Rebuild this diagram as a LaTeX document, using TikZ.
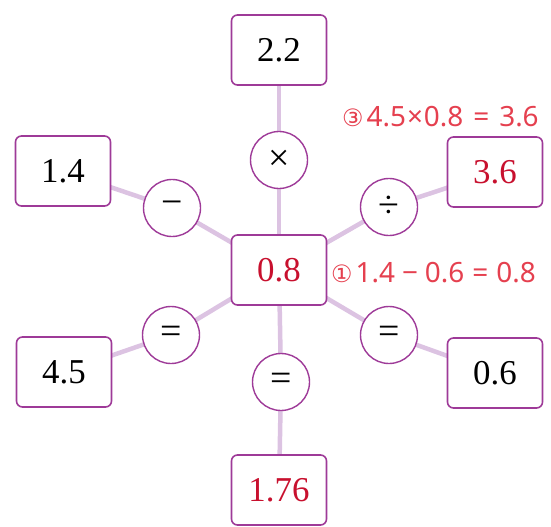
\documentclass[tikz,border=0pt]{standalone}
\usepackage{fontspec}
\usepackage{tikz}
\usetikzlibrary{positioning,calc,backgrounds}
\setmainfont{Liberation Serif}
\newfontfamily\notefont{Noto Sans}
\newfontfamily\circfont{DejaVu Sans}
\definecolor{boxLine}{HTML}{9E3A98}
\definecolor{linkCol}{HTML}{DCC3E2}
\definecolor{numRed}{HTML}{C8102E}
\definecolor{noteRed}{HTML}{E5404F}
\newcommand{\circnum}[1]{{\circfont\fontsize{24}{28}\selectfont #1}}
\tikzset{
  numbox/.style={
    rectangle, rounded corners=6pt, draw=boxLine, line width=1.6pt,
    fill=white, minimum width=95bp, minimum height=70bp, inner sep=0pt,
    font=\fontsize{35}{38}\selectfont,
  },
  opcircle/.style={
    circle, draw=boxLine, line width=1.4pt, fill=white,
    minimum size=57bp, inner sep=0pt, font=\fontsize{38}{40}\selectfont,
  },
  linkline/.style={
    line width=4.5bp, draw=linkCol,
  },
  note/.style={
    text=noteRed, inner sep=0pt, anchor=west,
    font=\notefont\fontsize{28}{30}\selectfont,
  },
}

\begin{document}
\begin{tikzpicture}[x=1bp, y=-1bp]
\useasboundingbox (0,0) rectangle (551,527);

% number boxes
\node[numbox] (box22)  at (279,50)  {2.2};
\node[numbox, text=numRed] (box08)  at (279,270) {0.8};
\node[numbox] (box14)  at (63,171)  {1.4};
\node[numbox, text=numRed] (box36)  at (495,172) {3.6};
\node[numbox] (box45)  at (64,372)  {4.5};
\node[numbox] (box06)  at (495,373) {0.6};
\node[numbox, text=numRed] (box176) at (279,490) {1.76};

% operator circles
\node[opcircle] (opTimes) at (279,160) {×};
\node[opcircle] (opMinus) at (172,208) {−};
\node[opcircle] (opDiv)   at (389,207) {÷};
\node[opcircle] (opEqL)   at (171,335) {=};
\node[opcircle] (opEqR)   at (389,335) {=};
\node[opcircle] (opEqB)   at (281,382) {=};

% links behind everything
\begin{scope}[on background layer]
  \draw[linkline] (box22.center) -- (opTimes.center) -- (box08.center);
  \draw[linkline] (box08.center) -- (opEqB.center) -- (box176.center);
  \draw[linkline] (box14.center) -- (opMinus.center) -- (box08.center);
  \draw[linkline] (box36.center) -- (opDiv.center) -- (box08.center);
  \draw[linkline] (box45.center) -- (opEqL.center) -- (box08.center);
  \draw[linkline] (box06.center) -- (opEqR.center) -- (box08.center);
\end{scope}

% notes
\node[note] (noteThree) at (342,117)
  {\circnum{③}\hspace{3bp}4.5\hspace{1bp}×\hspace{1bp}0.8\hspace{10bp}=\hspace{10bp}3.6};
\node[note] (noteOne) at (331,273)
  {\circnum{①}\hspace{3bp}1.4\hspace{7bp}−\hspace{7bp}0.6\hspace{8bp}=\hspace{8bp}0.8};

\end{tikzpicture}
\end{document}
